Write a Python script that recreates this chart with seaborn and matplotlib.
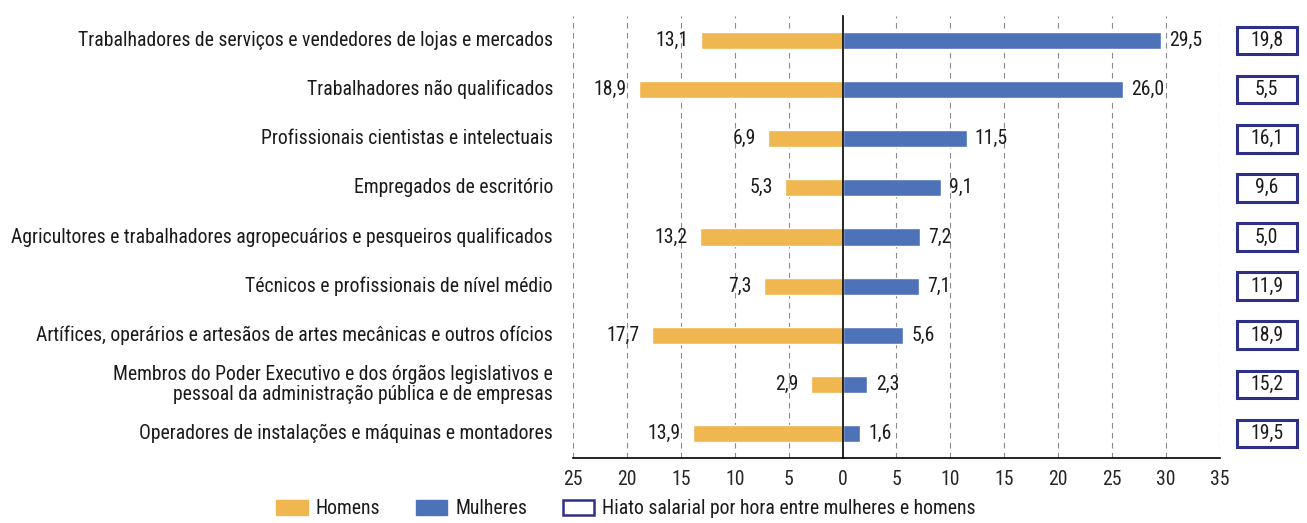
import numpy as np
import pandas as pd
import seaborn as sns
import matplotlib.pyplot as plt
from matplotlib.patches import Patch, Rectangle
import matplotlib.transforms as mtransforms

categorias = [
    "Trabalhadores de serviços e vendedores de lojas e mercados",
    "Trabalhadores não qualificados",
    "Profissionais cientistas e intelectuais",
    "Empregados de escritório",
    "Agricultores e trabalhadores agropecuários e pesqueiros qualificados",
    "Técnicos e profissionais de nível médio",
    "Artífices, operários e artesãos de artes mecânicas e outros ofícios",
    "Membros do Poder Executivo e dos órgãos legislativos e\npessoal da administração pública e de empresas",
    "Operadores de instalações e máquinas e montadores",
]
homens = [13.1, 18.9, 6.9, 5.3, 13.2, 7.3, 17.7, 2.9, 13.9]
mulheres = [29.5, 26.0, 11.5, 9.1, 7.2, 7.1, 5.6, 2.3, 1.6]
hiato = [19.8, 5.5, 16.1, 9.6, 5.0, 11.9, 18.9, 15.2, 19.5]
xticks = [-25, -20, -15, -10, -5, 0, 5, 10, 15, 20, 25, 30, 35]

COR_H = "#F0B650"
COR_M = "#4E72B8"
COR_BOX = "#2E2F86"

sns.set_style("white")
plt.rcParams["font.family"] = ["Roboto Condensed", "DejaVu Sans"]
plt.rcParams["text.color"] = "#1a1a1a"
FS = 14.2

df = pd.DataFrame({
    "categoria": categorias * 2,
    "valor": [-v for v in homens] + mulheres,
    "sexo": ["Homens"] * len(homens) + ["Mulheres"] * len(mulheres),
})

fig = plt.figure(figsize=(13.07, 5.23), dpi=100)
ax = fig.add_axes([0.4384, 0.1243, 0.495, 0.8451])

sns.barplot(data=df, x="valor", y="categoria", hue="sexo", order=categorias,
            palette={"Homens": COR_H, "Mulheres": COR_M}, dodge=False,
            width=0.35, orient="h", legend=False, ax=ax, saturation=1)

ax.set_xlim(-25, 35)
ax.set_ylim(len(categorias) - 0.5, -0.5)
ax.set_xlabel("")
ax.set_ylabel("")

# vertical dashed grid
for x in xticks:
    if x != 0:
        ax.axvline(x, color="#8a8a8a", lw=0.8, ls=(0, (5, 4)), zorder=0)

ax.set_xticks(xticks)
ax.set_xticklabels([str(abs(x)) for x in xticks], fontsize=FS)
ax.tick_params(axis="x", direction="out", length=6, width=1, color="black", pad=3)

# centre axis with ticks at category boundaries
ax.spines["left"].set_position(("data", 0))
ax.spines["left"].set_color("black")
ax.spines["left"].set_linewidth(1.2)
ax.set_yticks(np.arange(-0.5, len(categorias) - 0.5, 1))
ax.set_yticklabels([])
ax.tick_params(axis="y", direction="out", length=6, width=1, color="black")
ax.spines["bottom"].set_color("black")
ax.spines["bottom"].set_linewidth(1.2)
ax.spines["right"].set_visible(False)
ax.spines["top"].set_visible(False)

trans = mtransforms.blended_transform_factory(ax.transAxes, ax.transData)
for i, cat in enumerate(categorias):
    ax.text(-0.031, i, cat, transform=trans, ha="right", va="center",
            fontsize=FS, linespacing=1.1)
    ax.annotate(f"{homens[i]:.1f}".replace(".", ","), (-homens[i], i),
                xytext=(-9, 0), textcoords="offset points",
                ha="right", va="center", fontsize=FS)
    ax.annotate(f"{mulheres[i]:.1f}".replace(".", ","), (mulheres[i], i),
                xytext=(6, 0), textcoords="offset points",
                ha="left", va="center", fontsize=FS)
    ax.add_patch(Rectangle((1.026, i - 0.28), 0.0927, 0.56, transform=trans,
                           facecolor="white", edgecolor=COR_BOX, lw=2.2,
                           clip_on=False))
    ax.text(1.026 + 0.0927 / 2, i, f"{hiato[i]:.1f}".replace(".", ","),
            transform=trans, ha="center", va="center", fontsize=FS)

handles = [
    Patch(facecolor=COR_H, edgecolor=COR_H, label="Homens"),
    Patch(facecolor=COR_M, edgecolor=COR_M, label="Mulheres"),
    Patch(facecolor="white", edgecolor=COR_BOX, lw=1.8,
          label="Hiato salarial por hora entre mulheres e homens"),
]
fig.legend(handles=handles, loc="lower center", bbox_to_anchor=(0.479, -0.025),
           ncol=3, frameon=False, fontsize=FS, handlelength=1.6,
           handleheight=0.8, columnspacing=1.8, handletextpad=0.4)

fig.savefig("out.png", dpi=100)
